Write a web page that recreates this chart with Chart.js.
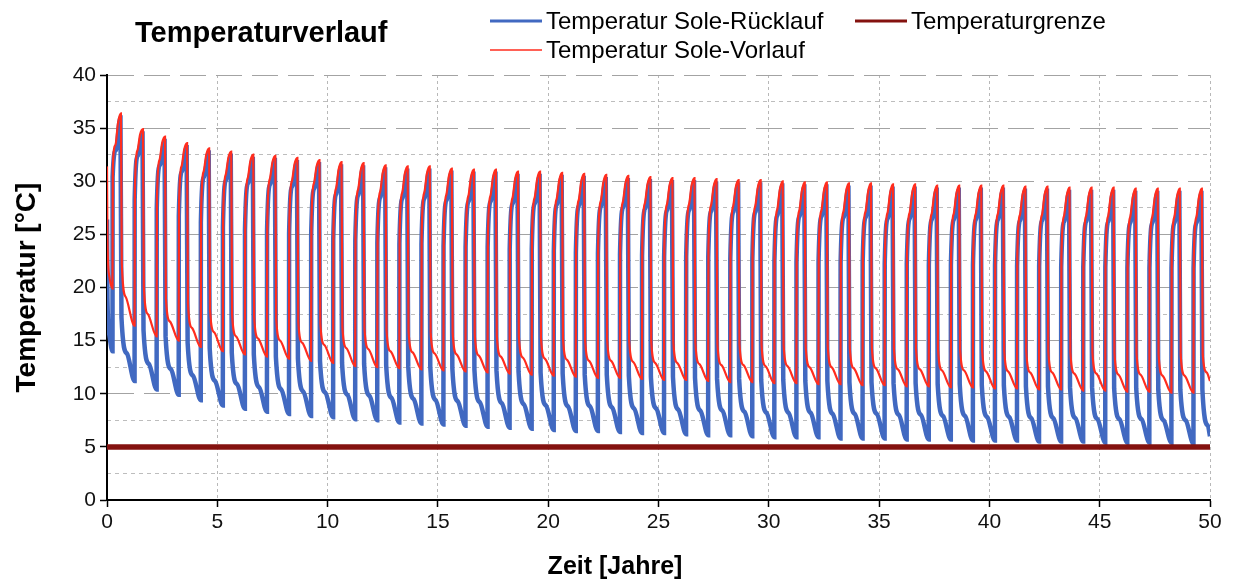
<!DOCTYPE html>
<html lang="de">
<head>
<meta charset="utf-8">
<title>Temperaturverlauf</title>
<script src="https://cdn.jsdelivr.net/npm/chart.js@4.4.1/dist/chart.umd.min.js"></script>
<style>
  html, body { margin: 0; padding: 0; background: #ffffff; }
  #wrap { position: relative; width: 1237px; height: 587px; }
</style>
</head>
<body>
<div id="wrap"><canvas id="chart" width="1237" height="587"></canvas></div>
<script>
// ---- Daten: Soletemperaturen über 50 Betriebsjahre ----

// Anlaufphase im ersten Jahr (Zeit in Jahren, Temperaturen in °C)
const zeitStart = [0, 0.02, 0.11];
const vorlaufStart = [31.4, 24.5, 21.0];
const ruecklaufStart = [26.4, 19.0, 15.5];

// Lage der Kennpunkte innerhalb eines Jahres (Jahresanteil)
const phaseVorlauf = { min: 0.25, anstieg1: 0.265, anstieg2: 0.38, anstieg3: 0.50, spitze: 0.63, abfall: 0.67, abklingen: 0.85 };
const phaseRuecklauf = { min: 0.25, anstieg1: 0.255, anstieg2: 0.40, spitze: 0.61, abfall: 0.655, abklingen: 0.90 };

// Sole-Vorlauf, je Betriebsjahr 0 … 49
const vorlaufMin = [19.9, 16.4, 15.4, 15.0, 14.4, 14.0, 13.7, 13.5, 13.3, 13.1,
  12.9, 12.6, 12.5, 12.4, 12.3, 12.2, 12.1, 12.0, 11.9, 11.8,
  11.7, 11.6, 11.5, 11.5, 11.4, 11.3, 11.3, 11.2, 11.1, 11.1,
  11.0, 11.0, 10.9, 10.9, 10.8, 10.8, 10.7, 10.7, 10.6, 10.6,
  10.5, 10.5, 10.4, 10.4, 10.3, 10.3, 10.2, 10.2, 10.1, 10.1];
const vorlaufAnstieg1 = [31.4, 29.3, 28.4, 27.7, 27.1, 26.7, 26.4, 26.3, 26.1, 25.9,
  25.5, 25.4, 25.2, 25.1, 25.1, 24.9, 24.8, 24.8, 24.6, 24.6,
  24.4, 24.3, 24.2, 24.1, 24.0, 23.9, 23.9, 23.8, 23.7, 23.7,
  23.5, 23.4, 23.4, 23.3, 23.3, 23.2, 23.2, 23.1, 23.1, 23.1,
  23.1, 23.0, 23.0, 22.9, 22.9, 22.9, 22.8, 22.8, 22.8, 22.8];
const vorlaufAnstieg2 = [33.4, 32.9, 32.0, 31.4, 30.9, 30.6, 30.3, 30.2, 30.0, 29.8,
  29.3, 29.2, 29.0, 28.9, 28.9, 28.7, 28.6, 28.6, 28.4, 28.4,
  28.3, 28.2, 28.1, 28.0, 27.9, 27.8, 27.8, 27.7, 27.6, 27.6,
  27.3, 27.2, 27.2, 27.1, 27.1, 27.0, 27.0, 26.9, 26.9, 26.9,
  26.9, 26.8, 26.8, 26.7, 26.7, 26.7, 26.6, 26.6, 26.6, 26.6];
const vorlaufAnstieg3 = [35.5, 34.4, 33.6, 33.0, 32.5, 32.2, 31.9, 31.8, 31.6, 31.4,
  31.1, 31.0, 30.8, 30.7, 30.7, 30.5, 30.4, 30.4, 30.2, 30.2,
  30.1, 30.0, 29.9, 29.8, 29.7, 29.6, 29.6, 29.5, 29.4, 29.4,
  29.2, 29.1, 29.1, 29.0, 29.0, 28.9, 28.9, 28.8, 28.8, 28.8,
  28.8, 28.7, 28.7, 28.6, 28.6, 28.6, 28.5, 28.5, 28.5, 28.5];
const vorlaufSpitze = [36.4, 34.9, 34.2, 33.6, 33.1, 32.8, 32.5, 32.4, 32.2, 32.0,
  31.8, 31.7, 31.5, 31.4, 31.4, 31.2, 31.1, 31.1, 30.9, 30.9,
  30.8, 30.7, 30.6, 30.5, 30.4, 30.3, 30.3, 30.2, 30.1, 30.1,
  30.0, 29.9, 29.9, 29.8, 29.8, 29.7, 29.7, 29.6, 29.6, 29.6,
  29.6, 29.5, 29.5, 29.4, 29.4, 29.4, 29.3, 29.3, 29.3, 29.3];
const vorlaufAbfall = [22.3, 20.1, 19.0, 18.5, 17.9, 17.5, 17.2, 17.0, 16.8, 16.6,
  16.3, 16.2, 16.0, 15.9, 15.8, 15.7, 15.6, 15.5, 15.4, 15.3,
  15.2, 15.1, 15.1, 15.0, 14.9, 14.9, 14.8, 14.7, 14.7, 14.6,
  14.6, 14.5, 14.5, 14.4, 14.4, 14.3, 14.3, 14.2, 14.2, 14.1,
  14.1, 14.0, 14.0, 13.9, 13.9, 13.8, 13.8, 13.7, 13.7, 13.7];
const vorlaufAbklingen = [19.1, 17.5, 16.8, 16.2, 15.8, 15.4, 15.2, 15.0, 14.8, 14.6,
  14.3, 14.2, 14.0, 13.9, 13.8, 13.7, 13.6, 13.5, 13.4, 13.3,
  13.2, 13.1, 13.1, 13.0, 12.9, 12.9, 12.8, 12.7, 12.7, 12.6,
  12.6, 12.5, 12.5, 12.4, 12.4, 12.3, 12.3, 12.2, 12.2, 12.1,
  12.1, 12.0, 12.0, 11.9, 11.9, 11.8, 11.8, 11.7, 11.7, 12.0];

// Sole-Rücklauf, je Betriebsjahr 0 … 49
const ruecklaufMin = [14.0, 11.2, 10.4, 9.9, 9.4, 8.9, 8.6, 8.3, 8.1, 7.9,
  7.8, 7.6, 7.5, 7.3, 7.2, 7.1, 7.0, 6.9, 6.8, 6.7,
  6.6, 6.5, 6.5, 6.4, 6.3, 6.3, 6.2, 6.1, 6.1, 6.0,
  5.9, 5.9, 5.9, 5.8, 5.8, 5.8, 5.7, 5.7, 5.7, 5.6,
  5.6, 5.6, 5.5, 5.5, 5.5, 5.4, 5.4, 5.4, 5.4, 5.3];
const ruecklaufAnstieg1 = [30.4, 28.3, 27.4, 26.7, 26.1, 25.7, 25.4, 25.3, 25.1, 24.9,
  24.5, 24.4, 24.2, 24.1, 24.1, 23.9, 23.8, 23.8, 23.6, 23.6,
  23.4, 23.3, 23.2, 23.1, 23.0, 22.9, 22.9, 22.8, 22.7, 22.7,
  22.5, 22.4, 22.4, 22.3, 22.3, 22.2, 22.2, 22.1, 22.1, 22.1,
  22.1, 22.0, 22.0, 21.9, 21.9, 21.9, 21.8, 21.8, 21.8, 21.8];
const ruecklaufAnstieg2 = [32.9, 32.4, 31.5, 30.9, 30.4, 30.1, 29.8, 29.7, 29.5, 29.3,
  28.8, 28.7, 28.5, 28.4, 28.4, 28.2, 28.1, 28.1, 27.9, 27.9,
  27.8, 27.7, 27.6, 27.5, 27.4, 27.3, 27.3, 27.2, 27.1, 27.1,
  26.8, 26.7, 26.7, 26.6, 26.6, 26.5, 26.5, 26.4, 26.4, 26.4,
  26.4, 26.3, 26.3, 26.2, 26.2, 26.2, 26.1, 26.1, 26.1, 26.1];
const ruecklaufSpitze = [36.0, 34.5, 33.8, 33.2, 32.7, 32.4, 32.1, 32.0, 31.8, 31.6,
  31.4, 31.3, 31.1, 31.0, 31.0, 30.8, 30.7, 30.7, 30.5, 30.5,
  30.4, 30.3, 30.2, 30.1, 30.0, 29.9, 29.9, 29.8, 29.7, 29.7,
  29.6, 29.5, 29.5, 29.4, 29.4, 29.3, 29.3, 29.2, 29.2, 29.2,
  29.2, 29.1, 29.1, 29.0, 29.0, 29.0, 28.9, 28.9, 28.9, 28.9];
const ruecklaufAbfall = [17.2, 16.0, 15.4, 14.8, 14.3, 13.9, 13.7, 13.5, 13.3, 13.1,
  12.9, 12.8, 12.7, 12.6, 12.5, 12.4, 12.3, 12.2, 12.1, 12.0,
  11.9, 11.8, 11.8, 11.7, 11.6, 11.6, 11.5, 11.4, 11.4, 11.3,
  11.3, 11.2, 11.2, 11.1, 11.1, 11.0, 11.0, 10.9, 10.9, 10.8,
  10.8, 10.7, 10.7, 10.6, 10.6, 10.5, 10.5, 10.4, 10.4, 10.4];
const ruecklaufAbklingen = [13.8, 12.8, 12.3, 11.7, 11.2, 10.9, 10.6, 10.4, 10.2, 10.1,
  9.9, 9.8, 9.6, 9.5, 9.4, 9.3, 9.2, 9.1, 9.0, 8.9,
  8.8, 8.8, 8.7, 8.6, 8.6, 8.5, 8.4, 8.4, 8.3, 8.2,
  8.2, 8.2, 8.1, 8.1, 8.1, 8.0, 8.0, 7.9, 7.9, 7.8,
  7.8, 7.7, 7.7, 7.7, 7.6, 7.6, 7.6, 7.5, 7.5, 7.0];

// Wert am Ende des Betrachtungszeitraums
const zeitEnde = 50;
const vorlaufEnde = 11.2;
const ruecklaufEnde = 6.0;

// Temperaturgrenze
const grenzeZeit = [0, 50];
const grenzeWert = [5, 5];

// Achsen
const xTicks = [0, 5, 10, 15, 20, 25, 30, 35, 40, 45, 50];
const yTicks = [0, 5, 10, 15, 20, 25, 30, 35, 40];

// ---- Punktfolgen aufbauen ----
const vorlaufPunkte = zeitStart.map((t, i) => ({ x: t, y: vorlaufStart[i] }));
vorlaufMin.forEach((_, n) => {
  vorlaufPunkte.push(
    { x: n + phaseVorlauf.min, y: vorlaufMin[n] },
    { x: n + phaseVorlauf.anstieg1, y: vorlaufAnstieg1[n] },
    { x: n + phaseVorlauf.anstieg2, y: vorlaufAnstieg2[n] },
    { x: n + phaseVorlauf.anstieg3, y: vorlaufAnstieg3[n] },
    { x: n + phaseVorlauf.spitze, y: vorlaufSpitze[n] },
    { x: n + phaseVorlauf.abfall, y: vorlaufAbfall[n] },
    { x: n + phaseVorlauf.abklingen, y: vorlaufAbklingen[n] }
  );
});
vorlaufPunkte.push({ x: zeitEnde, y: vorlaufEnde });

const ruecklaufPunkte = zeitStart.map((t, i) => ({ x: t, y: ruecklaufStart[i] }));
ruecklaufMin.forEach((_, n) => {
  ruecklaufPunkte.push(
    { x: n + phaseRuecklauf.min, y: ruecklaufMin[n] },
    { x: n + phaseRuecklauf.anstieg1, y: ruecklaufAnstieg1[n] },
    { x: n + phaseRuecklauf.anstieg2, y: ruecklaufAnstieg2[n] },
    { x: n + phaseRuecklauf.spitze, y: ruecklaufSpitze[n] },
    { x: n + phaseRuecklauf.abfall, y: ruecklaufAbfall[n] },
    { x: n + phaseRuecklauf.abklingen, y: ruecklaufAbklingen[n] }
  );
});
ruecklaufPunkte.push({ x: zeitEnde, y: ruecklaufEnde });

const grenzePunkte = grenzeZeit.map((t, i) => ({ x: t, y: grenzeWert[i] }));

// ---- Darstellung ----
const FONT = "'Liberation Sans', Arial, Helvetica, sans-serif";
const BLAU = '#4169c1';
const ROT = '#ff2d1e';
const DUNKELROT = '#84120f';

// Titel, Legende und Achsentitel
const beschriftung = {
  id: 'beschriftung',
  afterDraw(chart) {
    const { ctx, chartArea } = chart;
    const ds = chart.data.datasets;
    ctx.save();
    ctx.fillStyle = '#000';

    // Diagrammtitel
    ctx.font = 'bold 29px ' + FONT;
    ctx.textAlign = 'left';
    ctx.textBaseline = 'alphabetic';
    ctx.fillText('Temperaturverlauf', 135, 42);

    // Legende
    const eintraege = [
      { d: ds[2], x: 490, y: 21, w: 3 },
      { d: ds[1], x: 855, y: 21, w: 3 },
      { d: ds[0], x: 490, y: 50, w: 1.6 }
    ];
    ctx.font = '24px ' + FONT;
    ctx.textBaseline = 'middle';
    eintraege.forEach(e => {
      ctx.strokeStyle = e.d.borderColor;
      ctx.lineWidth = e.w;
      ctx.beginPath();
      ctx.moveTo(e.x, e.y);
      ctx.lineTo(e.x + 52, e.y);
      ctx.stroke();
      ctx.fillStyle = '#000';
      ctx.fillText(e.d.label, e.x + 56, e.y + 1);
    });

    // Achsentitel
    ctx.font = 'bold 25px ' + FONT;
    ctx.textAlign = 'center';
    ctx.fillText('Zeit [Jahre]', 615, 567);

    ctx.save();
    ctx.translate(27, (chartArea.top + chartArea.bottom) / 2);
    ctx.rotate(-Math.PI / 2);
    ctx.font = 'bold 28px ' + FONT;
    ctx.fillText('Temperatur [°C]', 0, 0);
    ctx.restore();

    ctx.restore();
  }
};

const tickFont = { family: FONT, size: 21 };

new Chart(document.getElementById('chart'), {
  type: 'line',
  data: {
    datasets: [
      {
        label: 'Temperatur Sole-Vorlauf',
        data: vorlaufPunkte,
        borderColor: ROT,
        borderWidth: 2.2,
        pointRadius: 0,
        cubicInterpolationMode: 'monotone',
        order: 0
      },
      {
        label: 'Temperaturgrenze',
        data: grenzePunkte,
        borderColor: DUNKELROT,
        borderWidth: 5.5,
        pointRadius: 0,
        order: 1
      },
      {
        label: 'Temperatur Sole-Rücklauf',
        data: ruecklaufPunkte,
        borderColor: BLAU,
        borderWidth: 4.5,
        pointRadius: 0,
        cubicInterpolationMode: 'monotone',
        order: 2
      }
    ]
  },
  options: {
    responsive: false,
    animation: false,
    layout: { padding: { left: 0, top: 75, right: 27, bottom: 0 } },
    plugins: {
      legend: { display: false },
      title: { display: false },
      tooltip: { enabled: false }
    },
    scales: {
      x: {
        type: 'linear',
        min: 0,
        max: 50,
        afterBuildTicks: s => { s.ticks = xTicks.map(v => ({ value: v })); },
        ticks: { font: tickFont, color: '#111', padding: 3, maxRotation: 0 },
        grid: { color: '#b8b8b8', lineWidth: 1, tickColor: '#000', tickLength: 7, tickWidth: 1.5 },
        border: { color: '#000', width: 2, dash: [3, 3] },
        afterFit: s => { s.height = 87; }
      },
      y: {
        min: 0,
        max: 40,
        afterBuildTicks: s => { s.ticks = yTicks.map(v => ({ value: v })); },
        ticks: { font: tickFont, color: '#111', padding: 4 },
        grid: { color: '#a3a3a3', lineWidth: 1, tickColor: '#000', tickLength: 7, tickWidth: 1.5 },
        border: { color: '#000', width: 2, dash: [26, 10] },
        afterFit: s => { s.width = 107; }
      },
      yMinor: {
        position: 'left',
        min: 0,
        max: 40,
        ticks: { stepSize: 2.5, display: false },
        grid: {
          drawTicks: false,
          color: c => (c.tick && c.tick.value % 5 !== 0) ? '#bdbdbd' : 'rgba(0,0,0,0)'
        },
        border: { display: false, dash: [4, 4] },
        afterFit: s => { s.width = 0; }
      }
    }
  },
  plugins: [beschriftung]
});
</script>
</body>
</html>
